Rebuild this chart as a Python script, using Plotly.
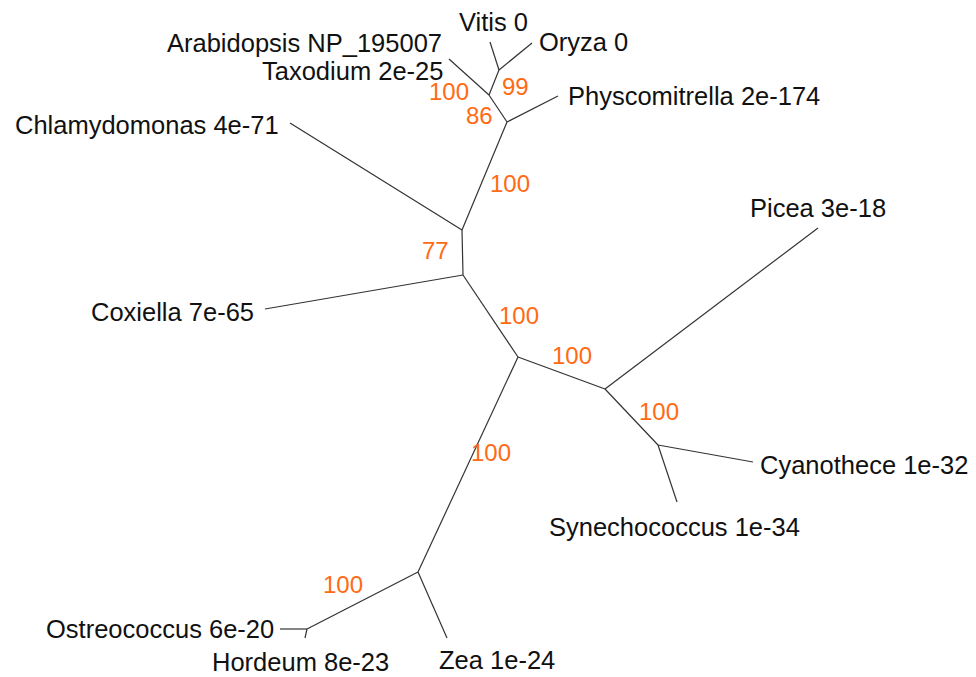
import plotly.graph_objects as go

# Node positions of the unrooted tree layout (pixel-like coordinates)
node_names = ["Vitis", "Oryza", "VO", "A", "AT", "B", "Phys", "C", "Chlam", "D", "Cox",
              "E", "F", "Picea", "H", "Cyano", "Syn", "G", "I", "Ost", "Hord", "Zea"]
node_x = [490, 532, 499, 489, 449, 507, 558, 462, 290, 463, 265,
          518, 605, 818, 658, 753, 677, 418, 307, 280, 305, 447]
node_y = [42, 43, 70, 95, 59, 122, 96, 230, 123, 275, 309,
          357, 389, 228, 445, 462, 502, 572, 629, 629, 638, 638]

edge_from = ["Vitis", "Oryza", "VO", "A", "A", "B", "B", "C", "C", "D", "D",
             "E", "F", "F", "H", "H", "E", "G", "I", "I", "G"]
edge_to = ["VO", "VO", "A", "AT", "B", "Phys", "C", "Chlam", "D", "Cox", "E",
           "F", "Picea", "H", "Cyano", "Syn", "G", "I", "Ost", "Hord", "Zea"]

# Leaf labels
leaf_text = ["Vitis 0", "Oryza 0", "Arabidopsis NP_195007", "Taxodium 2e-25",
             "Physcomitrella 2e-174", "Chlamydomonas 4e-71", "Picea 3e-18",
             "Coxiella 7e-65", "Cyanothece 1e-32", "Synechococcus 1e-34",
             "Ostreococcus 6e-20", "Hordeum 8e-23", "Zea 1e-24"]
leaf_lx = [457, 537, 444, 445, 566, 281, 748, 256, 758, 547, 276, 210, 437]
leaf_ly = [22, 42, 43, 71, 96, 125, 208, 312, 465, 527, 629, 662, 660]
leaf_anchor = ["left", "left", "right", "right", "left", "right", "left",
               "right", "left", "left", "right", "left", "left"]

# Bootstrap support values
boot_text = ["99", "100", "86", "100", "77", "100", "100", "100", "100", "100"]
boot_x = [515, 449, 479, 510, 435, 519, 572, 659, 491, 343]
boot_y = [86, 91, 115, 183, 250, 315, 355, 411, 452, 584]

pos = {n: (x, y) for n, x, y in zip(node_names, node_x, node_y)}
xs, ys = [], []
for a, b in zip(edge_from, edge_to):
    xs += [pos[a][0], pos[b][0], None]
    ys += [pos[a][1], pos[b][1], None]

fig = go.Figure()
fig.add_trace(go.Scatter(x=xs, y=ys, mode="lines",
                         line=dict(color="#333333", width=1.2),
                         hoverinfo="skip", showlegend=False))

FONT = "Liberation Sans, Arial, sans-serif"
for t, x, y, anc in zip(leaf_text, leaf_lx, leaf_ly, leaf_anchor):
    fig.add_annotation(x=x, y=y, text=t, showarrow=False, xanchor=anc,
                       yanchor="middle", font=dict(family=FONT, size=25.5, color="#111111"))
for t, x, y in zip(boot_text, boot_x, boot_y):
    fig.add_annotation(x=x, y=y, text=t, showarrow=False, xanchor="center",
                       yanchor="middle", font=dict(family=FONT, size=24, color="#FF6A13"))

# page body has an 8px margin, so the figure starts at (8, 8)
OFF = 8
fig.update_layout(width=976 - OFF, height=677 - OFF, margin=dict(l=0, r=0, t=0, b=0),
                  paper_bgcolor="white", plot_bgcolor="white",
                  xaxis=dict(range=[OFF, 976], visible=False, fixedrange=True),
                  yaxis=dict(range=[677, OFF], visible=False, fixedrange=True))
fig.write_html("out.html")
